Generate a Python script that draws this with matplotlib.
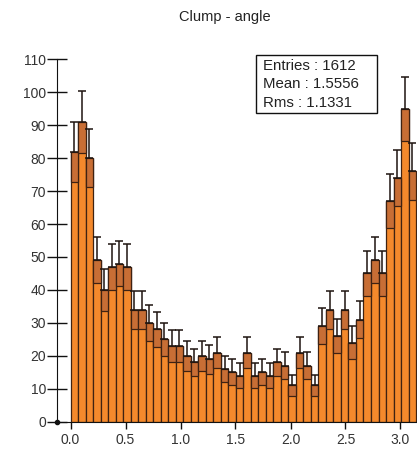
import numpy as np
import matplotlib
matplotlib.use("Agg")
import matplotlib.pyplot as plt

plt.rcParams['font.family'] = ['Liberation Sans', 'DejaVu Sans']

title = "Clump - angle"
counts = [82, 91, 80, 49, 40, 47, 48, 47, 34, 34, 30, 28, 25, 23, 23, 20,
          18, 20, 19, 21, 16, 15, 14, 21, 14, 15, 14, 18, 17, 11, 21, 17,
          11, 29, 34, 26, 34, 24, 31, 45, 49, 45, 67, 74, 95, 76]
errors = [9.1, 9.5, 8.9, 7.0, 6.3, 6.9, 6.9, 6.9, 5.8, 5.8, 5.5, 5.3, 5.0, 4.8, 4.8, 4.5,
          4.2, 4.5, 4.4, 4.6, 4.0, 3.9, 3.7, 4.6, 3.7, 3.9, 3.7, 4.2, 4.1, 3.3, 4.6, 4.1,
          3.3, 5.4, 5.8, 5.1, 5.8, 4.9, 5.6, 6.7, 7.0, 6.7, 8.2, 8.6, 9.7, 8.7]
x_ticks = [0.0, 0.5, 1.0, 1.5, 2.0, 2.5, 3.0]
y_ticks = [0, 10, 20, 30, 40, 50, 60, 70, 80, 90, 100, 110]
stats = ["Entries : 1612", "Mean : 1.5556", "Rms : 1.1331"]

W, H = 417, 450
fig = plt.figure(figsize=(W / 100, H / 100), dpi=100)
left, right, top, bottom = 57.3, 417.0, 59.3, 421.7
ax = fig.add_axes([left / W, 1 - bottom / H, (right - left) / W, (bottom - top) / H])

counts_a = np.array(counts, dtype=float)
err_a = np.array(errors)
edges = np.linspace(0, np.pi, len(counts) + 1)
centers = 0.5 * (edges[:-1] + edges[1:])
width = edges[1] - edges[0]

orange = '#F4892C'
band = '#C86E35'
dark = '#3f2212'

ax.bar(centers, counts_a, width=width, color=orange, edgecolor=dark, linewidth=0.9, zorder=2)
ax.bar(centers, err_a, bottom=counts_a - err_a, width=width, color=band,
       edgecolor=dark, linewidth=0.9, zorder=3)
ax.errorbar(centers, counts_a, yerr=[np.zeros_like(err_a), err_a], fmt='none',
            ecolor='#1e1410', elinewidth=1.1, capsize=2.6, capthick=1.1, zorder=4)

ax.set_xlim(-0.12, 3.15)
ax.set_ylim(0, 110)
for s in ['top', 'right']:
    ax.spines[s].set_visible(False)
ax.spines['left'].set_color('#111111')
ax.spines['bottom'].set_color('#111111')
ax.set_xticks(x_ticks)
ax.set_xticklabels([f"{v:.1f}" for v in x_ticks])
ax.set_yticks(y_ticks)
ax.tick_params(axis='x', direction='out', length=5, width=1, labelsize=10,
               colors='#111111', labelcolor='#333333', pad=3)
ax.tick_params(axis='y', direction='inout', length=14, width=1, labelsize=10,
               colors='#111111', labelcolor='#333333', pad=1)
ax.plot([-0.12], [0], 'o', color='#111111', markersize=3, clip_on=False, zorder=5)

fig.text(224.5 / W, 1 - 17 / H, title, ha='center', va='center', fontsize=10.5, color='#222222')

# stats box
bx0, bx1, by0, by1 = 256, 377, 55, 113
rect = plt.Rectangle((bx0 / W, 1 - by1 / H), (bx1 - bx0) / W, (by1 - by0) / H,
                     transform=fig.transFigure, facecolor='white', edgecolor='#111111',
                     linewidth=1.0, zorder=10)
fig.patches.append(rect)
for i, s in enumerate(stats):
    fig.text(263 / W, 1 - (66 + 18.5 * i) / H, s, ha='left', va='center',
             fontsize=10.8, color='#222222', zorder=11)

fig.savefig('out.png', dpi=100)
